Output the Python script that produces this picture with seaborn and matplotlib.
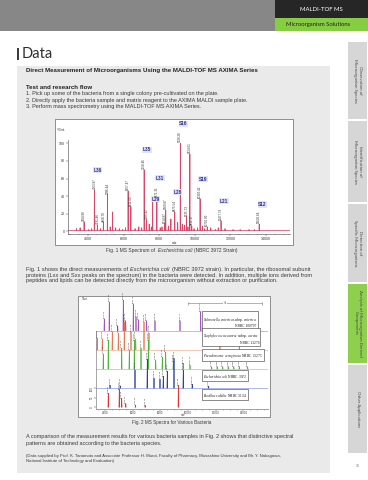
"""
MALDI-TOF MS data page: E. coli spectrum (Fig. 1) and stacked spectra of
five bacteria (Fig. 2), laid out on a 368x480 brochure page.
"""

import matplotlib
matplotlib.use("Agg")

import matplotlib.pyplot as plt
import matplotlib.ticker as ticker
from matplotlib.patches import Rectangle
import pandas as pd
import seaborn as sns

sns.set_theme(style="ticks")
plt.rcParams["font.family"] = ["Liberation Sans", "DejaVu Sans"]

W, H = 368, 480

# ── Fig. 1 data: E. coli NBRC 3972 ──────────────────────────────────────────
ecoli_mz = [3784.80, 4363.97, 4531.46, 4868.78, 5096.44, 5381.00, 6257.47,
            6411.00, 7158.46, 7285.82, 7635.00, 7871.31, 8314.97, 8369.87,
            8875.54, 9190.28, 9535.73, 9724.61, 9832.17, 10300.42, 10700.90,
            11477.79, 13620.64]
ecoli_int = [11, 47, 7, 10, 42, 22, 46, 28, 70, 13, 33, 38, 9, 24, 22, 100,
             17, 88, 6, 37, 5, 12, 8]
ecoli_tag = ["", "L36", "", "", "", "", "", "", "L35", "", "L29", "L31", "",
             "", "L28", "S16", "", "", "", "S19", "", "L21", "S12"]
ecoli_mass_label = [True, True, True, True, True, False, True, True, True,
                    True, False, True, True, True, True, True, True, True,
                    True, True, True, True, True]
minor_mz = [3350, 3560, 4050, 4210, 4700, 5250, 5560, 5760, 5950, 6110, 6650,
            6860, 7020, 7440, 7560, 8060, 8160, 8520, 8660, 9040, 9300, 9420,
            9620, 9960, 10160, 10430, 10560, 10900, 11160, 11320, 11700, 12150,
            12550, 13050, 13350, 14150, 14650]
minor_int = [3, 4, 2, 3, 3, 5, 4, 3, 2, 4, 3, 5, 4, 8, 5, 4, 5, 6, 14, 10, 8,
             7, 5, 3, 4, 6, 3, 4, 2, 4, 3, 2, 2, 2, 2, 1, 1]

# ── Fig. 2 data: stacked spectra ────────────────────────────────────────────
species = ["Salmonella", "Staphylococcus", "Pseudomonas", "Escherichia", "Bacillus"]
species_box = [
    r"$\it{Salmonella\ enterica}$ subsp. $\it{enterica}$" + "\nNBRC 100797",
    r"$\it{Staphylococcus\ aureus}$ subsp. $\it{aureus}$" + "\nNBRC 13276",
    r"$\it{Pseudomonas\ aeruginosa}$ NBRC 13275",
    r"$\it{Escherichia\ coli}$ NBRC 3972",
    r"$\it{Bacillus\ subtilis}$ NBRC 3134",
]
species_color = ["#a255c2", "#e8774f", "#4fb43c", "#2f3f9c", "#e03232"]
baseline_color = ["#c98fd8", "#f2b29a", "#8ee06a", "#8d9ae0", "#c99a9a"]

sal_mz = [3950.21, 4310.46, 4917.33, 5320.87, 5495.12, 6045.70, 6238.05,
          6405.64, 7010.26, 7610.58, 9415.77, 10910.40]
sal_h = [62, 150, 26, 160, 52, 140, 73, 57, 52, 52, 52, 100]
stp_mz = [3444.17, 3805.62, 4527.30, 4960.84, 5394.15, 5877.42, 6217.90,
          6816.33, 7177.05, 12300.61, 13700.28]
stp_h = [62, 57, 94, 88, 146, 94, 57, 146, 88, 26, 26]
psa_mz = [3877.45, 4238.19, 5206.72, 5755.30, 6116.84, 6600.13, 7126.56,
          7660.92, 8137.48, 8383.25, 8932.64, 9653.11, 10137.50, 11700.82,
          12100.37, 12500.15, 12900.66, 13300.24, 13700.91, 14300.40]
psa_h = [78, 150, 109, 99, 150, 109, 150, 47, 62, 88, 40, 30, 20, 12, 12, 12,
         12, 12, 12, 12]
eco_mz = [4363.97, 5096.44, 6166.30, 7054.82, 7538.41, 7971.26, 8209.63,
          8498.17, 8982.55, 9653.40, 10300.42, 11477.79]
eco_h = [15, 12, 94, 150, 52, 47, 62, 88, 156, 94, 20, 10]
bsu_mz = [4238.61, 5032.27, 5206.90, 5500.14, 6200.45, 6900.73, 9300.18]
bsu_h = [73, 94, 47, 20, 12, 10, 114]
rows_mz = [sal_mz, stp_mz, psa_mz, eco_mz, bsu_mz]
rows_h = [sal_h, stp_h, psa_h, eco_h, bsu_h]

tabs = ["Observation of\nMicroorganism Species",
        "Identification of\nMicroorganism Species",
        "Detection of\nSpecific Microorganisms",
        "Analysis of Microorganism Derived\nComponents",
        "Other Applications"]
tab_active = [False, False, False, True, False]

TXT = "#3a3a3a"
NAVY = "#2c2c8e"

fig = plt.figure(figsize=(W / 100, H / 100), dpi=100)
bg = fig.add_axes([0, 0, 1, 1])
bg.set_xlim(0, W)
bg.set_ylim(H, 0)
bg.axis("off")
renderer = fig.canvas.get_renderer()


def box(x0, y0, x1, y1, color, ec="none", lw=0):
    bg.add_patch(Rectangle((x0, y0), x1 - x0, y1 - y0, facecolor=color,
                           edgecolor=ec, lw=lw))


def px_axes(x0, y0, x1, y1):
    a = fig.add_axes([x0 / W, 1 - y1 / H, (x1 - x0) / W, (y1 - y0) / H])
    a.patch.set_alpha(0)
    return a


def body(x, y, s, size=4.0, **kw):
    kw.setdefault("color", TXT)
    bg.text(x, y, s, fontsize=size, va="center", ha=kw.pop("ha", "left"), **kw)


def text_width(s, size, style="normal"):
    t = bg.text(0, 0, s, fontsize=size, style=style)
    w = t.get_window_extent(renderer).width * W / fig.bbox.width
    t.remove()
    return w


def rich(x, y, parts, size=4.0, center=False):
    """Line of text made of (string, style) pieces, e.g. an italic species name."""
    space = max(size * 0.6, text_width("a a", size) - text_width("aa", size))
    widths = []
    for s, style in parts:
        core = s.strip(" ")
        lead = len(s) - len(s.lstrip(" "))
        trail = len(s) - len(s.rstrip(" "))
        widths.append((lead * space, text_width(core, size, style), trail * space))
    if center:
        x -= sum(sum(w) for w in widths) / 2
    base = y + size * 0.36  # baseline sits a little below the line centre
    for (s, style), (lead, core_w, trail) in zip(parts, widths):
        x += lead
        bg.text(x, base, s.strip(" "), fontsize=size, style=style, color=TXT,
                va="baseline")
        x += core_w + trail


# ── page furniture ──────────────────────────────────────────────────────────
box(0, 0, W, 31, "#878787")
box(275, 0, W, 18, "#262626")
box(275, 18, W, 31, "#86cd41")
bg.text(321, 9.5, "MALDI-TOF MS", color="white", fontsize=4.3,
        family="Lato", ha="center", va="center")
bg.text(318, 24.8, "Microorganism Solutions", color="#1f1f1f", fontsize=4.2,
        family="Lato", ha="center", va="center")

box(17, 66, 330, 473, "#eaeaea")
box(16.7, 47.7, 18.9, 60, "#3c3c3c")
bg.text(21.5, 54.5, "Data", fontsize=10.5, family="Lato", color="#2e2e2e",
        va="center")

tab_edges = [(42, 119), (121, 202), (204, 282), (284, 363), (365, 453)]
for (t0, t1), label, active in zip(tab_edges, tabs, tab_active):
    box(348, t0, 367, t1, "#8ed04d" if active else "#d6d6d6")
    bg.text(357.5, (t0 + t1) / 2, label, rotation=270, fontsize=3.2,
            family="Lato", color="#4a4a4a", ha="center", va="center",
            multialignment="center", linespacing=1.1)
bg.text(357.5, 466, "15", fontsize=2.6, color="#777", ha="center", va="center")

body(25.5, 70.7, "Direct Measurement of Microorganisms Using the MALDI-TOF MS AXIMA Series",
     size=4.4, weight="bold", color="#222")
body(25.5, 87.3, "Test and research flow", size=4.4, weight="bold", color="#222")
steps = ["1. Pick up some of the bacteria from a single colony pre-cultivated on the plate.",
         "2. Directly apply the bacteria sample and matrix reagent to the AXIMA MALDI sample plate.",
         "3. Perform mass spectrometry using the MALDI-TOF MS AXIMA Series."]
for i, s in enumerate(steps):
    body(25.5, 94 + 6.2 * i, s)

# ── Fig. 1 ──────────────────────────────────────────────────────────────────
box(55, 119, 293, 245, "white", ec="#666", lw=0.5)
ax1 = px_axes(68, 125, 290, 233.5)

peaks = sorted(zip(ecoli_mz + minor_mz, ecoli_int + minor_int))
prof_x, prof_y = [2900], [0.8]
for m, h in peaks:
    prof_x += [m - 14, m, m + 14]
    prof_y += [0.8, h, 0.8]
prof_x.append(15340)
prof_y.append(0.8)
sns.lineplot(x=prof_x, y=prof_y, sort=False, estimator=None, color="#d8466a",
             lw=0.55, ax=ax1)

for m, h, tag, show in zip(ecoli_mz, ecoli_int, ecoli_tag, ecoli_mass_label):
    if show:
        ax1.annotate(f"{m:.2f}", (m, h), xytext=(0, 0.6), textcoords="offset points",
                     rotation=90, ha="center", va="bottom", fontsize=2.2, color="#333")
    if tag:
        dy = 14.2 if show else 2.2
        ax1.annotate(tag, (m, h), xytext=(-0.8, dy), textcoords="offset points",
                     ha="left", va="center", fontsize=3.4, weight="bold", color=NAVY,
                     bbox=dict(boxstyle="square,pad=0.12", fc="#e1e4f6", ec="none"))

ax1.set_xlim(2880, 15350)
ax1.set_ylim(-2.5, 120.8)
ax1.set_xticks([4000, 6000, 8000, 10000, 12000, 14000])
ax1.set_yticks([0, 20, 40, 60, 80, 100])
ax1.xaxis.set_minor_locator(ticker.MultipleLocator(500))
ax1.tick_params(length=1.5, width=0.3, pad=0.8, labelsize=2.6, colors="#333")
ax1.tick_params(which="minor", length=0.8, width=0.25)
ax1.spines[["top", "right"]].set_visible(False)
ax1.spines["left"].set_bounds(-2.5, 104)
for sp in ("left", "bottom"):
    ax1.spines[sp].set_linewidth(0.4)
    ax1.spines[sp].set_color("#444")
ax1.set_xlabel("")
ax1.set_ylabel("")
bg.text(57, 130, "%Int.", fontsize=2.8, color="#333", va="center")
bg.text(175, 242.5, "m/z", fontsize=2.4, color="#333", ha="center", va="center")

rich(172, 250.7, [("Fig. 1 MS Spectrum of ", "normal"), ("Escherichia coli", "italic"),
                  (" (NBRC 3972 Strain)", "normal")], size=3.5, center=True)

rich(25.5, 270, [("Fig. 1 shows the direct measurements of ", "normal"),
                 ("Escherichia coli", "italic"),
                 (" (NBRC 3972 strain). In particular, the ribosomal subunit", "normal")],
     size=4.1)
body(25.5, 275.3, "proteins (Lxx and Sxx peaks on the spectrum) in the bacteria were "
     "detected. In addition, multiple ions derived from", size=4.1)
body(25.5, 280.6, "peptides and lipids can be detected directly from the microorganism "
     "without extraction or purification.", size=4.1)

# ── Fig. 2 ──────────────────────────────────────────────────────────────────
box(77.5, 296, 270, 417.3, "white", ec="#666", lw=0.5)
ax2 = px_axes(96, 299, 268, 408.5)

records = []
for r, (name, mzs, hs) in enumerate(zip(species, rows_mz, rows_h)):
    base = (len(species) - 1 - r) * 100
    if r < len(species) - 1:
        ax2.axhline(base, color=baseline_color[r], lw=0.5, zorder=1)
    for k, (m, h) in enumerate(zip(mzs, hs)):
        for dx, dy in ((-25, 0), (0, h), (25, 0)):
            records.append({"mz": m + dx, "y": base + dy, "species": name,
                            "pid": f"{name}{k}"})
        ax2.annotate(f"{m:.2f}", (m, base + h), xytext=(0, 0.5),
                     textcoords="offset points", rotation=90, ha="center",
                     va="bottom", fontsize=1.6, color="#333")
df2 = pd.DataFrame(records)
sns.lineplot(data=df2, x="mz", y="y", hue="species", units="pid",
             estimator=None, sort=False, palette=dict(zip(species, species_color)),
             lw=0.5, legend=False, ax=ax2, zorder=2)

ax2.set_xlim(3350, 15770)
ax2.set_ylim(-6.3, 565.5)
ax2.set_xticks([4000, 6000, 8000, 10000, 12000, 14000])
ax2.set_yticks([0, 50, 100])
ax2.set_yticklabels(["0", "50", "100"], rotation=90, va="center")
ax2.xaxis.set_minor_locator(ticker.MultipleLocator(500))
ax2.tick_params(length=1.2, width=0.3, pad=0.6, labelsize=2.0, colors="#333")
ax2.tick_params(which="minor", length=0.7, width=0.25)
ax2.spines[["top", "right"]].set_visible(False)
ax2.spines["left"].set_bounds(-6.3, 400)
ax2.spines["left"].set_linewidth(0.4)
ax2.spines["left"].set_color("#666")
ax2.spines["bottom"].set_linewidth(0.7)
ax2.spines["bottom"].set_color("#c09090")
ax2.set_xlabel("")
ax2.set_ylabel("")

box_pos = [(203, 321.5), (203, 338), (203, 355), (203, 375.5), (203, 394.7)]
for (bx, by), label in zip(box_pos, species_box):
    ax2.text(bx, by, label, transform=bg.transData, fontsize=2.6,
             family="Liberation Serif", math_fontfamily="stix", ha="left",
             va="center", multialignment="right", color="#111", linespacing=1.2,
             bbox=dict(boxstyle="square,pad=0.35", fc="white", ec="#333", lw=0.4))

bg.plot([188, 262], [303, 303], color="#777", lw=0.4)
bg.plot([188, 188], [301.5, 304.5], color="#777", lw=0.4)
bg.plot([262, 262], [301.5, 304.5], color="#777", lw=0.4)
bg.text(225, 303, "×5", fontsize=2, color="#555", ha="center", va="center",
        bbox=dict(boxstyle="square,pad=0.15", fc="white", ec="none"))
bg.text(82, 299.5, "%Int.", fontsize=2, color="#333", va="center")
bg.text(183, 415.5, "m/z", fontsize=2, color="#333", ha="center", va="center")

bg.text(172, 422.7, "Fig. 2 MS Spectra for Various Bacteria", fontsize=3.35,
        color=TXT, ha="center", va="center")
body(25.5, 436.7, "A comparison of the measurement results for various bacteria "
     "samples in Fig. 2 shows that distinctive spectral")
body(25.5, 443.5, "patterns are obtained according to the bacteria species.")
body(25.5, 456.5, "(Data supplied by Prof. K. Tanamoto and Associate Professor H. Muroi, "
     "Faculty of Pharmacy, Musashino University and Mr. Y. Nakagawa,", size=3.05)
body(25.5, 460.8, "National Institute of Technology and Evaluation)", size=3.05)

fig.savefig("out.png", dpi=100)
plt.close(fig)
